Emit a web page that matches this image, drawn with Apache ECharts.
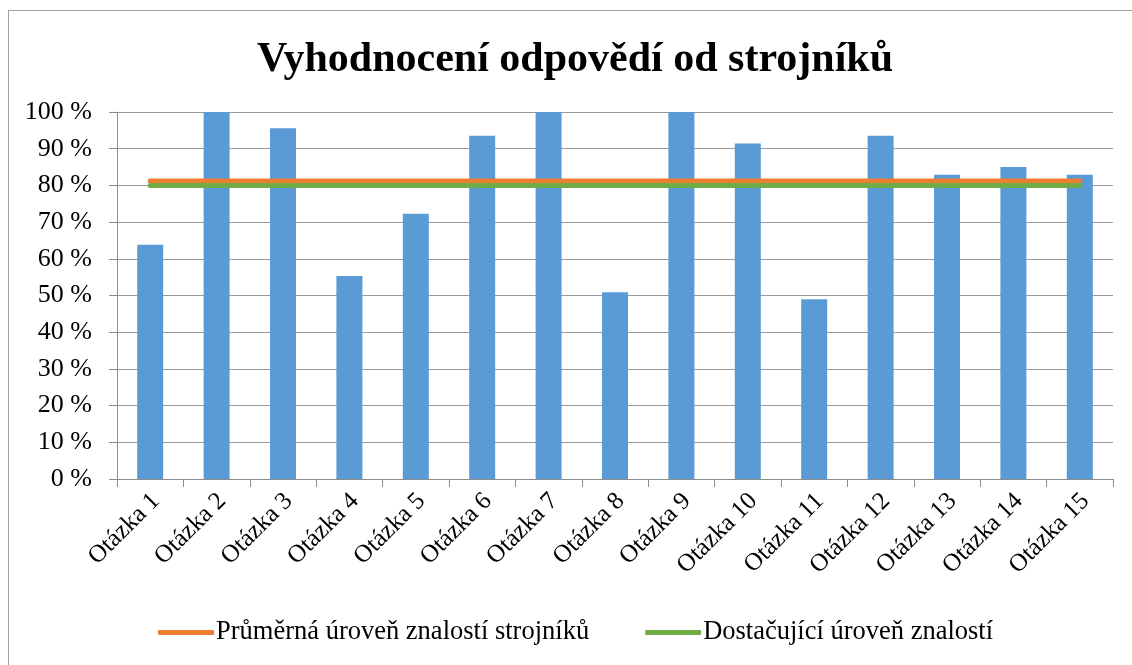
<!DOCTYPE html>
<html>
<head>
<meta charset="utf-8">
<script src="https://cdn.jsdelivr.net/npm/echarts@6/dist/echarts.min.js"></script>
<style>
  html, body { margin: 0; padding: 0; background: #fff; }
  #content { width: 1132px; height: 665px; position: relative; }
  #frame { position: absolute; left: 8px; top: 10px; right: -2px; bottom: -2px;
           border-left: 1.5px solid #a0a0a0; border-top: 1.5px solid #a0a0a0; pointer-events: none; }
</style>
</head>
<body>
<div id="content"></div>
<div id="frame"></div>
<script>
var categories = ['Otázka 1', 'Otázka 2', 'Otázka 3', 'Otázka 4', 'Otázka 5', 'Otázka 6', 'Otázka 7',
    'Otázka 8', 'Otázka 9', 'Otázka 10', 'Otázka 11', 'Otázka 12', 'Otázka 13', 'Otázka 14', 'Otázka 15'];
var answers = [63.8, 100, 95.6, 55.3, 72.3, 93.5, 100, 50.9, 100, 91.4, 49.0, 93.5, 82.9, 85.0, 82.9];
var average = [81.2, 81.2, 81.2, 81.2, 81.2, 81.2, 81.2, 81.2, 81.2, 81.2, 81.2, 81.2, 81.2, 81.2, 81.2];
var sufficient = [80, 80, 80, 80, 80, 80, 80, 80, 80, 80, 80, 80, 80, 80, 80];

var font = '"Liberation Serif", "Times New Roman", serif';
var myChart = echarts.init(document.getElementById('content'));

option = {
    animation: false,
    title: {
        text: 'Vyhodnocení odpovědí od strojníků',
        left: 252,
        top: 34,
        textStyle: {
            fontFamily: font,
            fontSize: 42,
            fontWeight: 'bold',
            color: '#000'
        }
    },
    legend: {
        bottom: 14,
        left: 153,
        itemWidth: 56,
        itemHeight: 5,
        itemGap: 56,
        icon: 'roundRect',
        data: ['Průměrná úroveň znalostí strojníků', 'Dostačující úroveň znalostí'],
        textStyle: {
            fontFamily: font,
            fontSize: 26.5,
            color: '#000',
            padding: [0, 0, 0, -3]
        }
    },
    grid: {
        left: 117,
        right: 19,
        top: 112,
        bottom: 186
    },
    xAxis: {
        type: 'category',
        data: categories,
        axisLine: { lineStyle: { color: '#8c8c8c', width: 1 } },
        axisTick: { show: true, length: 8, lineStyle: { color: '#8c8c8c' } },
        axisLabel: {
            rotate: 45,
            interval: 0,
            margin: 24,
            padding: [0, -8, 0, 0],
            fontFamily: font,
            fontSize: 25,
            color: '#000'
        }
    },
    yAxis: {
        type: 'value',
        min: 0,
        max: 100,
        interval: 10,
        axisLine: { show: true, lineStyle: { color: '#8c8c8c', width: 1 } },
        axisTick: { show: true, length: 8, lineStyle: { color: '#8c8c8c' } },
        splitLine: { lineStyle: { color: '#9a9a9a', width: 1 } },
        axisLabel: {
            formatter: '{value} %',
            margin: 25,
            fontFamily: font,
            fontSize: 26,
            color: '#000'
        }
    },
    series: [
        {
            name: 'Odpovědi',
            type: 'bar',
            barWidth: 26,
            itemStyle: { color: '#5B9BD5' },
            data: answers
        },
        {
            name: 'Průměrná úroveň znalostí strojníků',
            type: 'line',
            symbol: 'none',
            lineStyle: { color: '#ED7D31', width: 5, cap: 'round' },
            itemStyle: { color: '#ED7D31' },
            data: average
        },
        {
            name: 'Dostačující úroveň znalostí',
            type: 'line',
            symbol: 'none',
            lineStyle: { color: '#70AD47', width: 5, cap: 'round' },
            itemStyle: { color: '#70AD47' },
            data: sufficient
        }
    ]
};
myChart.setOption(option);
</script>
</body>
</html>
